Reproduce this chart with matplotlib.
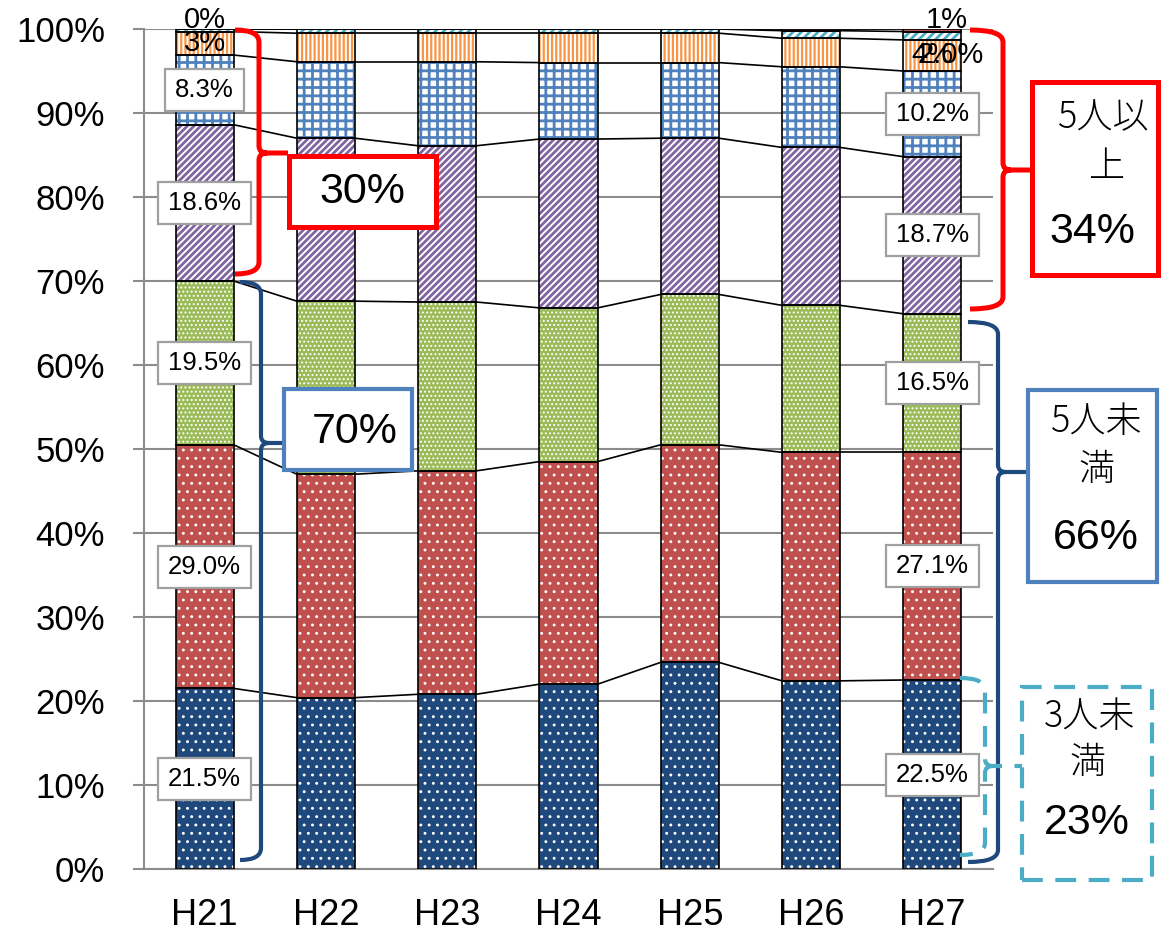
import matplotlib
matplotlib.use('Agg')
import matplotlib.pyplot as plt
import numpy as np
from matplotlib.patches import Rectangle, PathPatch
from matplotlib.path import Path
from matplotlib.transforms import IdentityTransform

# ---------------- data ----------------
categories = ['H21', 'H22', 'H23', 'H24', 'H25', 'H26', 'H27']
s_a = [21.5, 20.4, 20.8, 22.0, 24.6, 22.4, 22.5]   # navy dots
s_b = [29.0, 26.6, 26.6, 26.5, 25.9, 27.2, 27.1]   # red dots
s_c = [19.5, 20.6, 20.1, 18.3, 17.9, 17.5, 16.5]   # green
s_d = [18.6, 19.4, 18.6, 20.1, 18.6, 18.8, 18.7]   # purple stripes
s_e = [8.3, 9.1, 10.0, 9.1, 9.0, 9.6, 10.2]        # blue grid
s_f = [2.8, 3.4, 3.4, 3.5, 3.5, 3.4, 3.7]          # orange lines
s_g = [0.3, 0.5, 0.5, 0.5, 0.5, 0.9, 1.0]          # teal stripes
s_h = [0.0, 0.0, 0.0, 0.0, 0.0, 0.2, 0.3]          # red tip
series = [s_a, s_b, s_c, s_d, s_e, s_f, s_g, s_h]

labels_first = ['21.5%', '29.0%', '19.5%', '18.6%', '8.3%']
labels_last = ['22.5%', '27.1%', '16.5%', '18.7%', '10.2%']
top_first = ['3%', '0%']
top_last = ['4%', '1%', '2.0%']
yticks = list(range(0, 101, 10))

# ---------------- figure ----------------
W, H = 1162, 939
fig = plt.figure(figsize=(W / 100, H / 100), dpi=100)
ax = fig.add_axes([144 / W, 1 - 869 / H, (993 - 144) / W, (869 - 29) / H])

FONT = ['Liberation Sans', 'DejaVu Sans']
JFONT = ['Noto Sans CJK JP', 'DejaVu Sans']

styles = [
    dict(face='#1F497D', hatch='..', hc='white', hlw=0.9),
    dict(face='#C0504D', hatch='..', hc='white', hlw=0.9),
    dict(face='#9BBB59', hatch='....', hc='white', hlw=0.9),
    dict(face='white', hatch='/////', hc='#8064A2', hlw=2.0),
    dict(face='white', hatch='++', hc='#4F81BD', hlw=2.0),
    dict(face='white', hatch='||||', hc='#F79646', hlw=1.6),
    dict(face='white', hatch='////', hc='#4BACC6', hlw=2.0),
    dict(face='#C0504D', hatch=None, hc='#C0504D', hlw=1.0),
]

x = np.arange(len(categories))
bw = 0.48
bottom = np.zeros(len(categories))
cums = []
for vals, st in zip(series, styles):
    vals = np.array(vals, dtype=float)
    with plt.rc_context({'hatch.linewidth': st['hlw']}):
        ax.bar(x, vals, bw, bottom=bottom, color=st['face'], edgecolor=st['hc'],
               hatch=st['hatch'], linewidth=0, zorder=2)
    ax.bar(x, vals, bw, bottom=bottom, fill=False, edgecolor='black',
           linewidth=1.2, zorder=3)
    bottom = bottom + vals
    cums.append(bottom.copy())

# series connector lines
for c in cums:
    for i in range(len(categories) - 1):
        ax.plot([i + bw / 2, i + 1 - bw / 2], [c[i], c[i + 1]], color='black',
                lw=1.2, zorder=3)

ax.set_xlim(-0.5, len(categories) - 0.5)
ax.set_ylim(0, 100)
ax.set_yticks(yticks)
ax.set_yticklabels([f'{v}%' for v in yticks], fontfamily=FONT)
ax.set_xticks(x)
ax.set_xticklabels(categories, fontfamily=FONT)
ax.yaxis.grid(True, color='#8C8C8C', lw=1.5)
ax.set_axisbelow(True)
for s in ['top', 'right']:
    ax.spines[s].set_visible(False)
for s in ['left', 'bottom']:
    ax.spines[s].set_color('#8C8C8C')
    ax.spines[s].set_linewidth(1.5)
ax.tick_params(axis='y', length=8, color='#8C8C8C', width=1.5, pad=20, labelsize=25)
ax.tick_params(axis='x', length=0, pad=21, labelsize=26)

# ---------------- data labels ----------------
boxed = []
for col, labs in [(0, labels_first), (len(categories) - 1, labels_last)]:
    for k, lab in enumerate(labs):
        yc = cums[k][col] - series[k][col] / 2
        t = fig.text(col, yc, lab, transform=ax.transData, ha='center', va='center',
                     fontsize=18.5, fontfamily=FONT, zorder=9)
        boxed.append((t, col, yc))

# small top labels
fig.text(0, cums[5][0] - series[5][0] / 2, top_first[0], transform=ax.transData,
         ha='center', va='center', fontsize=21, fontfamily=FONT, zorder=9)
fig.text(0, cums[6][0] + 0.1, top_first[1], transform=ax.transData,
         ha='center', va='baseline', fontsize=21, fontfamily=FONT, zorder=9)
L = len(categories) - 1
fig.text(L + 0.15, cums[5][L] - series[5][L] / 2, top_last[2], transform=ax.transData,
         ha='center', va='center', fontsize=21, fontfamily=FONT, zorder=9)
fig.text(L, cums[5][L] - series[5][L] / 2, top_last[0], transform=ax.transData,
         ha='center', va='center', fontsize=21, fontfamily=FONT, zorder=9)
fig.text(L + 0.12, cums[7][L] + 0.1, top_last[1], transform=ax.transData,
         ha='center', va='baseline', fontsize=21, fontfamily=FONT, zorder=9)

fig.canvas.draw()
rend = fig.canvas.get_renderer()
for t, col, yc in boxed:
    ext = t.get_window_extent(rend)
    cx, cy = ax.transData.transform((col, yc))
    w = ext.width + 20
    h = 42
    fig.add_artist(Rectangle((cx - w / 2, cy - h / 2), w, h, transform=IdentityTransform(),
                             fc='white', ec='#A0A0A0', lw=1.6, zorder=8))


# ---------------- annotations (pixel space) ----------------
def px(xp, yp):
    return (xp, H - yp)


def box(x0, y0, x1, y1, ec, lw, ls='-'):
    fig.add_artist(Rectangle(px(x0, y1), x1 - x0, y1 - y0, transform=IdentityTransform(),
                             fc='white', ec=ec, lw=lw, ls=ls, zorder=7))


def brace(x0, xv, ytop, ybot, ymid, xn, color, lw, ls='-'):
    M, C, Ln = Path.MOVETO, Path.CURVE3, Path.LINETO
    verts = [px(x0, ytop), px(xv, ytop), px(xv, ytop + 12), px(xv, ymid - 7),
             px(xv, ymid), px(xv + 8, ymid), px(xn, ymid),
             px(xv + 8, ymid), px(xv, ymid), px(xv, ymid + 7), px(xv, ybot - 12),
             px(xv, ybot), px(x0, ybot)]
    codes = [M, C, C, Ln, C, C, Ln, M, C, C, Ln, C, C]
    fig.add_artist(PathPatch(Path(verts, codes), fill=False, ec=color, lw=lw, ls=ls,
                             transform=IdentityTransform(), zorder=6,
                             capstyle='butt', joinstyle='round'))


RED = '#FF0000'
NAVY = '#1F497D'
STEEL = '#4F81BD'
TEAL = '#4BACC6'

brace(235, 259, 30, 274, 153, 288, RED, 3.6)
brace(240, 261, 282, 860, 443, 285, NAVY, 3.0)
brace(970, 1003, 30, 309, 170, 1032, RED, 3.6)
brace(968, 998, 322, 862, 472, 1028, NAVY, 3.0)
brace(960, 985, 678, 855, 766, 1022, TEAL, 3.0, ls=(0, (5, 3)))

box(289, 156, 436, 227, RED, 3.6)
fig.text(*px(362, 192), '30%', transform=IdentityTransform(), ha='center', va='center',
         fontsize=31, fontfamily=FONT, zorder=9)
box(284, 389, 412, 470, STEEL, 3.0)
fig.text(*px(355, 432), '70%', transform=IdentityTransform(), ha='center', va='center',
         fontsize=31, fontfamily=FONT, zorder=9)

box(1032, 82, 1158, 275, RED, 3.6)
fig.text(*px(1104, 118), '5人以', transform=IdentityTransform(), ha='center', va='center',
         fontsize=26, fontfamily=JFONT, fontweight='light', zorder=9)
fig.text(*px(1107, 167), '上', transform=IdentityTransform(), ha='center', va='center',
         fontsize=26, fontfamily=JFONT, fontweight='light', zorder=9)
fig.text(*px(1092, 232), '34%', transform=IdentityTransform(), ha='center', va='center',
         fontsize=31, fontfamily=FONT, zorder=9)

box(1028, 390, 1157, 582, STEEL, 3.0)
fig.text(*px(1097, 422), '5人未', transform=IdentityTransform(), ha='center', va='center',
         fontsize=26, fontfamily=JFONT, fontweight='light', zorder=9)
fig.text(*px(1097, 470), '満', transform=IdentityTransform(), ha='center', va='center',
         fontsize=26, fontfamily=JFONT, fontweight='light', zorder=9)
fig.text(*px(1096, 538), '66%', transform=IdentityTransform(), ha='center', va='center',
         fontsize=31, fontfamily=FONT, zorder=9)

box(1022, 687, 1152, 880, TEAL, 3.0, ls=(0, (5, 3)))
fig.text(*px(1090, 717), '3人未', transform=IdentityTransform(), ha='center', va='center',
         fontsize=26, fontfamily=JFONT, fontweight='light', zorder=9)
fig.text(*px(1088, 763), '満', transform=IdentityTransform(), ha='center', va='center',
         fontsize=26, fontfamily=JFONT, fontweight='light', zorder=9)
fig.text(*px(1087, 823), '23%', transform=IdentityTransform(), ha='center', va='center',
         fontsize=31, fontfamily=FONT, zorder=9)

fig.savefig('out.png', dpi=100)
